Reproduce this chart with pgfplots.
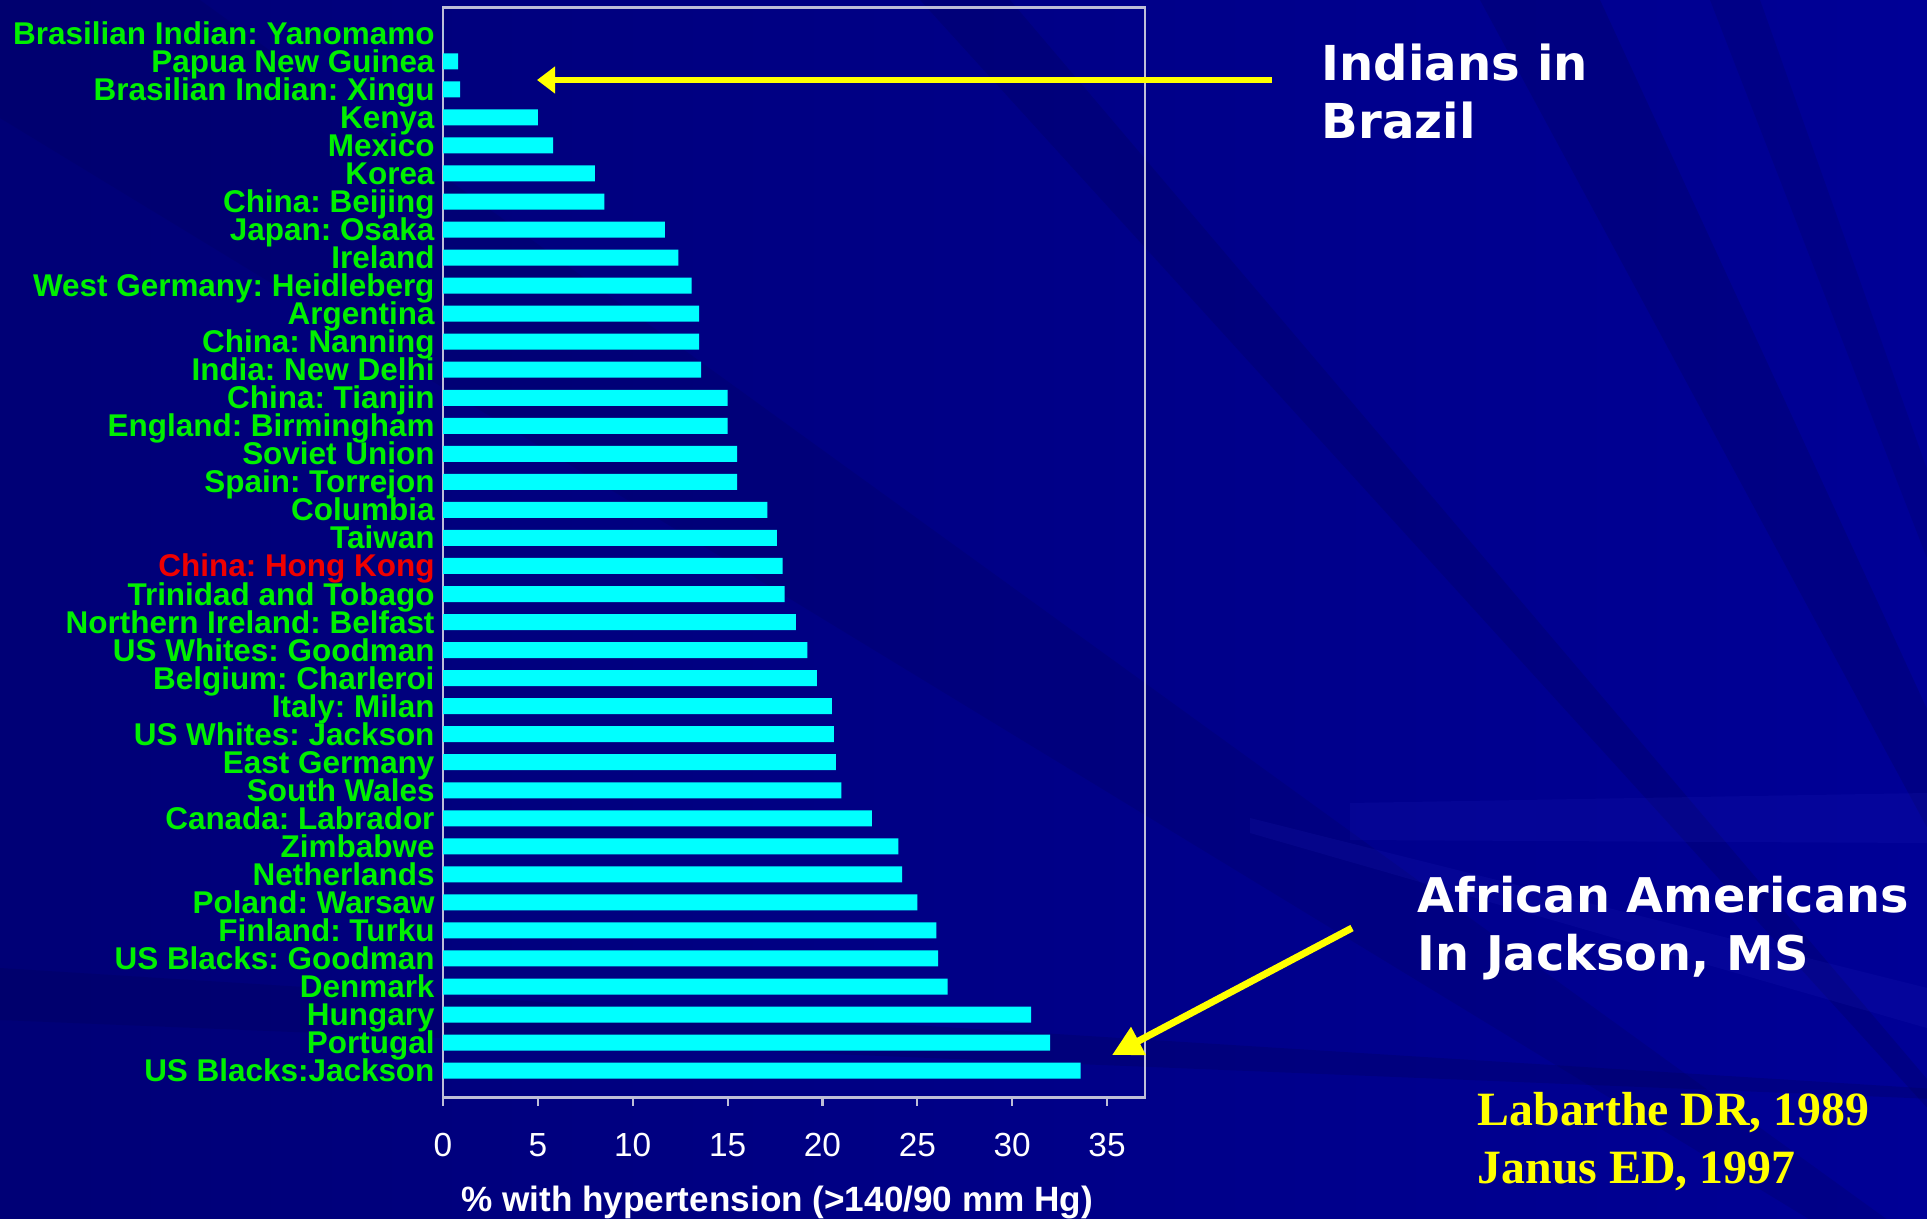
\documentclass[border=0pt]{standalone}
\usepackage{pgfplots}
\usepackage{pgfplotstable}
\pgfplotsset{compat=1.18}
\usepackage{fontspec}
\setmainfont{Liberation Sans}
\newfontfamily\dejavu{DejaVu Sans}
\newfontfamily\tnr{Liberation Serif}
\usetikzlibrary{arrows.meta}
\frenchspacing
\definecolor{bgleft}{RGB}{0,0,118}
\definecolor{bgright}{RGB}{0,0,150}
\definecolor{bgdark}{RGB}{0,0,85}
\definecolor{bglight}{RGB}{40,40,190}
\definecolor{barcyan}{RGB}{0,255,255}
\definecolor{lblgreen}{RGB}{0,240,0}
\definecolor{lblred}{RGB}{240,0,0}
\definecolor{framec}{RGB}{190,190,215}
\definecolor{yel}{RGB}{255,255,0}

\pgfplotstableread{
idx val
0 0
1 0.8
2 0.9
3 5.0
4 5.8
5 8.0
6 8.5
7 11.7
8 12.4
9 13.1
10 13.5
11 13.5
12 13.6
13 15.0
14 15.0
15 15.5
16 15.5
17 17.1
18 17.6
19 17.9
20 18.0
21 18.6
22 19.2
23 19.7
24 20.5
25 20.6
26 20.7
27 21.0
28 22.6
29 24.0
30 24.2
31 25.0
32 26.0
33 26.1
34 26.6
35 31.0
36 32.0
37 33.6
}\datatable

\begin{document}
\begin{tikzpicture}
\begin{scope}[x=1mm,y=1mm]
\clip (0,0) rectangle (192.7,121.8);
\shade[left color=bgleft, right color=bgright] (0,0) rectangle (192.7,121.8);
% decorative rays
\fill[bgdark, opacity=0.25] (230,-30) -- (92,121.8) -- (101,121.8) -- cycle;
\fill[bgdark, opacity=0.25] (230,-30) -- (148,121.8) -- (160,121.8) -- cycle;
\fill[bgdark, opacity=0.20] (230,-30) -- (171,121.8) -- (176,121.8) -- cycle;
\fill[bgdark, opacity=0.20] (230,-30) -- (0,110) -- (0,121.8) -- (20,121.8) -- cycle;
\fill[bgdark, opacity=0.25] (240,10) -- (0,19.8) -- (0,25) -- cycle;
\fill[bglight, opacity=0.15] (135,41.5) -- (192.7,42.5) -- (192.7,37.5) -- (135,37.8) -- cycle;
\fill[bglight, opacity=0.15] (125,40) -- (192.7,23) -- (192.7,19) -- (125,38.5) -- cycle;
\end{scope}

\begin{axis}[
  at={(44.3mm,12.05mm)}, anchor=south west,
  width=70.2mm, height=109.0mm, scale only axis,
  xbar, bar width=1.6mm,
  xmin=0, xmax=37, ymin=-0.92, ymax=37.96, y dir=reverse,
  xtick={0,5,...,35}, ytick={0,...,37},
  xtick pos=bottom, ytick pos=left,
  yticklabels={Brasilian Indian: Yanomamo,Papua New Guinea,Brasilian Indian: Xingu,Kenya,Mexico,Korea,China: Beijing,Japan: Osaka,Ireland,West Germany: Heidleberg,Argentina,China: Nanning,India: New Delhi,China: Tianjin,England: Birmingham,Soviet Union,Spain: Torrejon,Columbia,Taiwan,\textcolor{lblred}{China: Hong Kong},Trinidad and Tobago,Northern Ireland: Belfast,US Whites: Goodman,Belgium: Charleroi,Italy: Milan,US Whites: Jackson,East Germany,South Wales,Canada: Labrador,Zimbabwe,Netherlands,Poland: Warsaw,Finland: Turku,US Blacks: Goodman,Denmark,Hungary,Portugal,US Blacks:Jackson},
  axis line style={framec, line width=0.6pt},
  tick align=outside, major tick length=2.3pt,
  x tick style={framec, line width=0.6pt},
  y tick style={draw=none},
  xticklabel style={white, font=\fontsize{9.5}{9.5}\selectfont, anchor=base, yshift=-5.05mm},
  yticklabel style={lblgreen, font=\bfseries\fontsize{8.95}{8.95}\selectfont, anchor=base east, xshift=1.2mm, yshift=-1.1mm},
  /pgf/number format/assume math mode=true,
  xlabel={\% with hypertension (>140/90 mm Hg)},
  xlabel style={white, font=\bfseries\fontsize{10}{10}\selectfont, at={(axis description cs:0.476,0)}, anchor=base, yshift=-11.35mm},
]
\addplot[fill=barcyan, draw=none] table[x=val, y=idx] {\datatable};
\end{axis}

\begin{scope}[x=1mm,y=1mm]
\draw[yel, line width=0.55mm, -{Triangle[length=1.8mm,width=2.6mm]}] (127.2,113.8) -- (53.7,113.8);
\draw[yel, line width=0.7mm, -{Triangle[length=3mm,width=3mm]}] (135.2,29.0) -- (111.2,16.3);
\node[white, anchor=base west, inner sep=0, font=\dejavu\bfseries\fontsize{13.7}{13.7}\selectfont] at (132.1,113.7) {Indians in};
\node[white, anchor=base west, inner sep=0, font=\dejavu\bfseries\fontsize{13.7}{13.7}\selectfont] at (132.1,107.9) {Brazil};
\node[white, anchor=base west, inner sep=0, font=\dejavu\bfseries\fontsize{13.6}{13.6}\selectfont] at (141.7,30.6) {African Americans};
\node[white, anchor=base west, inner sep=0, font=\dejavu\bfseries\fontsize{13.6}{13.6}\selectfont] at (141.7,24.8) {In Jackson, MS};
\node[yel, anchor=base west, inner sep=0, font=\tnr\bfseries\fontsize{13.6}{13.6}\selectfont] at (147.7,9.3) {Labarthe DR, 1989};
\node[yel, anchor=base west, inner sep=0, font=\tnr\bfseries\fontsize{13.6}{13.6}\selectfont] at (147.7,3.5) {Janus ED, 1997};
\pgfresetboundingbox
\useasboundingbox (0,0) rectangle (192.7,121.8);
\end{scope}
\end{tikzpicture}
\end{document}
